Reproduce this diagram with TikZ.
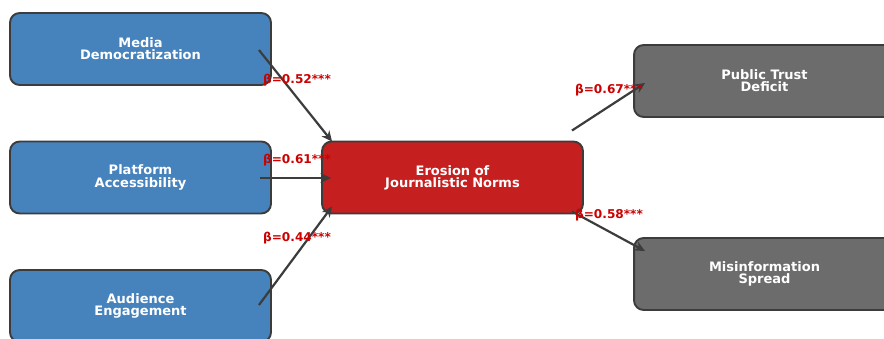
\documentclass[tikz,border=0pt]{standalone}
\usepackage{fontspec}
\usepackage{tikz}
\setmainfont{DejaVu Sans}
\usetikzlibrary{arrows.meta}
\definecolor{steelblue}{RGB}{70,131,189}
\definecolor{erosionred}{RGB}{197,31,31}
\definecolor{outgrey}{RGB}{108,108,108}
\definecolor{edgegrey}{RGB}{60,60,60}
\definecolor{betared}{RGB}{204,0,0}

\begin{document}
\begin{tikzpicture}[x=0.02cm,y=-0.02cm,
	box/.style={draw=edgegrey,line width=1.1pt,rounded corners=5.5pt,minimum width=5.22cm,minimum height=1.44cm,
		align=center,text=white,font=\bfseries\fontsize{7.4}{6.9}\selectfont},
	arr/.style={edgegrey,line width=1.25pt,-{Stealth[length=6pt,width=5.5pt]}},
	beta/.style={text=betared,font=\bfseries\fontsize{6.9}{7}\selectfont}]
			\clip (0,0) rectangle (884,338);
			\coordinate (m_pos) at (140.5,49);
			\coordinate (p_pos) at (140.5,177.5);
			\coordinate (a_pos) at (140.5,306);
			\coordinate (e_pos) at (452.5,177.5);
			\coordinate (t_pos) at (764.5,81);
			\coordinate (s_pos) at (764.5,274);
			\node[box,fill=steelblue] (media) at (m_pos) {Media\\Democratization};
			\node[box,fill=steelblue] (platform) at (p_pos) {Platform\\Accessibility};
			\node[box,fill=steelblue] (audience) at (a_pos) {Audience\\Engagement};
			\node[box,fill=erosionred] (erosion) at (e_pos) {Erosion of\\Journalistic Norms};
			\node[box,fill=outgrey] (trust) at (t_pos) {Public Trust\\Deficit};
			\node[box,fill=outgrey] (misinfo) at (s_pos) {Misinformation\\Spread};
			% paths into the erosion box
			\draw[arr] ([shift={(-13,1)}]media.east) -- ([shift={(11,1)}]erosion.north west);
			\draw[arr] ([shift={(-12,0.5)}]platform.east) -- ([shift={(10,0.5)}]erosion.west);
			\draw[arr] ([shift={(-13,-1)}]audience.east) -- ([shift={(11,-8)}]erosion.south west);
			% paths out of it
			\draw[arr] ([shift={(-12,-10)}]erosion.north east) -- ([shift={(12,2)}]trust.west);
			\draw[arr] ([shift={(-12,-3)}]erosion.south east) -- ([shift={(12,14)}]misinfo.north west);
			\node[beta] (b_media) at (297,80) {β=0.52***};
			\node[beta] (b_platform) at (297,160) {β=0.61***};
			\node[beta] (b_audience) at (297,238) {β=0.44***};
			\node[beta] (b_trust) at (609,90) {β=0.67***};
			\node[beta] (b_misinfo) at (609,215) {β=0.58***};
		\end{tikzpicture}
\end{document}
